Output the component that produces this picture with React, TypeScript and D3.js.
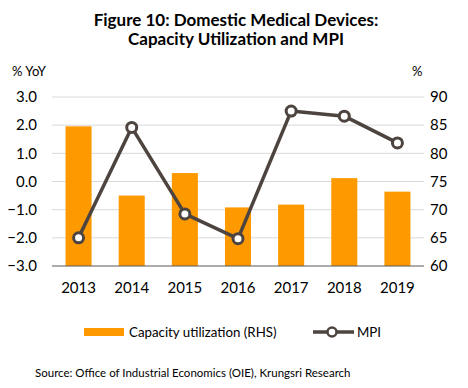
import React, { useEffect, useRef } from 'react';
import * as d3 from 'd3';

const years = ['2013', '2014', '2015', '2016', '2017', '2018', '2019'];
const capacityUtilization = [84.8, 72.5, 76.5, 70.4, 70.9, 75.6, 73.2];
const mpi = [-2.0, 1.92, -1.15, -2.03, 2.5, 2.32, 1.37];
const leftTicks = [-3, -2, -1, 0, 1, 2, 3];
const rightTicks = [60, 65, 70, 75, 80, 85, 90];

const FONT = 'Lato, "Open Sans", sans-serif';
const ORANGE = '#FF9900';
const LINE = '#4D4440';

function App() {
  const ref = useRef<SVGSVGElement>(null);

  useEffect(() => {
    const svg = d3.select(ref.current);
    svg.selectAll('*').remove();

    const margin = { top: 97, right: 44, bottom: 122, left: 52 };
    const width = 468 - margin.left - margin.right;
    const height = 388 - margin.top - margin.bottom;

    // title
    const title = svg.append('text')
      .attr('x', 236)
      .attr('text-anchor', 'middle')
      .style('font-family', FONT)
      .style('font-weight', 'bold')
      .style('font-size', '17px')
      .attr('fill', '#000');
    title.append('tspan').attr('x', 236).attr('y', 26).text('Figure 10: Domestic Medical Devices:');
    title.append('tspan').attr('x', 236).attr('y', 45).text('Capacity Utilization and MPI');

    svg.append('text')
      .attr('x', 12).attr('y', 76)
      .style('font-family', FONT).style('font-size', '13px')
      .text('% YoY');
    svg.append('text')
      .attr('x', 412).attr('y', 76)
      .style('font-family', FONT).style('font-size', '13px')
      .text('%');

    const g = svg.append('g').attr('transform', `translate(${margin.left}, ${margin.top})`);

    const xScale = d3.scaleBand().domain(years).range([0, width]).paddingInner(0.51).paddingOuter(0.255);
    const yLeft = d3.scaleLinear().domain([-3, 3]).range([height, 0]);
    const yRight = d3.scaleLinear().domain([60, 90]).range([height, 0]);

    // gridlines
    g.append('g')
      .selectAll('line')
      .data(leftTicks.slice(1))
      .join('line')
      .attr('x1', 0).attr('x2', width)
      .attr('y1', d => yLeft(d)).attr('y2', d => yLeft(d))
      .attr('stroke', '#D9D9D9')
      .attr('stroke-width', 1);

    // bars (right axis)
    g.append('g')
      .selectAll('rect')
      .data(capacityUtilization)
      .join('rect')
      .attr('x', (d, i) => xScale(years[i]) as number)
      .attr('y', d => yRight(d))
      .attr('width', xScale.bandwidth())
      .attr('height', d => height - yRight(d))
      .attr('fill', ORANGE);

    // x axis line
    g.append('line')
      .attr('x1', 0).attr('x2', width)
      .attr('y1', height).attr('y2', height)
      .attr('stroke', '#595959')
      .attr('stroke-width', 1);

    const xCenter = (i: number) => (xScale(years[i]) as number) + xScale.bandwidth() / 2;

    const mpiLine = d3.line<number>()
      .x((d, i) => xCenter(i))
      .y(d => yLeft(d));

    g.append('path')
      .datum(mpi)
      .attr('fill', 'none')
      .attr('stroke', LINE)
      .attr('stroke-width', 3.5)
      .attr('stroke-linejoin', 'round')
      .attr('d', mpiLine);

    g.append('g')
      .selectAll('circle')
      .data(mpi)
      .join('circle')
      .attr('cx', (d, i) => xCenter(i))
      .attr('cy', d => yLeft(d))
      .attr('r', 5)
      .attr('fill', '#fff')
      .attr('stroke', LINE)
      .attr('stroke-width', 3);

    // left axis labels
    g.append('g')
      .selectAll('text')
      .data(leftTicks)
      .join('text')
      .attr('x', -15)
      .attr('y', d => yLeft(d))
      .attr('dy', '0.35em')
      .attr('text-anchor', 'end')
      .style('font-family', FONT)
      .style('font-size', '15px')
      .attr('fill', '#000')
      .text(d => d3.format('.1f')(d));

    // right axis labels
    g.append('g')
      .selectAll('text')
      .data(rightTicks)
      .join('text')
      .attr('x', width + 6)
      .attr('y', d => yRight(d))
      .attr('dy', '0.35em')
      .style('font-family', FONT)
      .style('font-size', '15px')
      .attr('fill', '#000')
      .text(d => d);

    // x labels
    g.append('g')
      .selectAll('text')
      .data(years)
      .join('text')
      .attr('x', (d, i) => xCenter(i))
      .attr('y', height + 27)
      .attr('text-anchor', 'middle')
      .style('font-family', FONT)
      .style('font-size', '15px')
      .attr('fill', '#000')
      .text(d => d);

    // legend
    const legend = svg.append('g');
    legend.append('rect')
      .attr('x', 84).attr('y', 328)
      .attr('width', 40).attr('height', 8)
      .attr('fill', ORANGE);
    legend.append('text')
      .attr('x', 129).attr('y', 337)
      .style('font-family', FONT).style('font-size', '13.3px')
      .text('Capacity utilization (RHS)');
    legend.append('line')
      .attr('x1', 313).attr('x2', 354)
      .attr('y1', 332).attr('y2', 332)
      .attr('stroke', LINE).attr('stroke-width', 3.5);
    legend.append('circle')
      .attr('cx', 332).attr('cy', 332).attr('r', 4.5)
      .attr('fill', '#fff').attr('stroke', LINE).attr('stroke-width', 2.5);
    legend.append('text')
      .attr('x', 357).attr('y', 337)
      .style('font-family', FONT).style('font-size', '13.3px')
      .text('MPI');

    svg.append('text')
      .attr('x', 35).attr('y', 377)
      .style('font-family', FONT).style('font-size', '11.5px')
      .text('Source: Office of Industrial Economics (OIE), Krungsri Research');
  }, []);

  return (
    <svg
      ref={ref}
      width={468}
      height={388}
      style={{ position: 'absolute', left: 0, top: 0, background: '#fff' }}
    />
  );
}

export default App;
